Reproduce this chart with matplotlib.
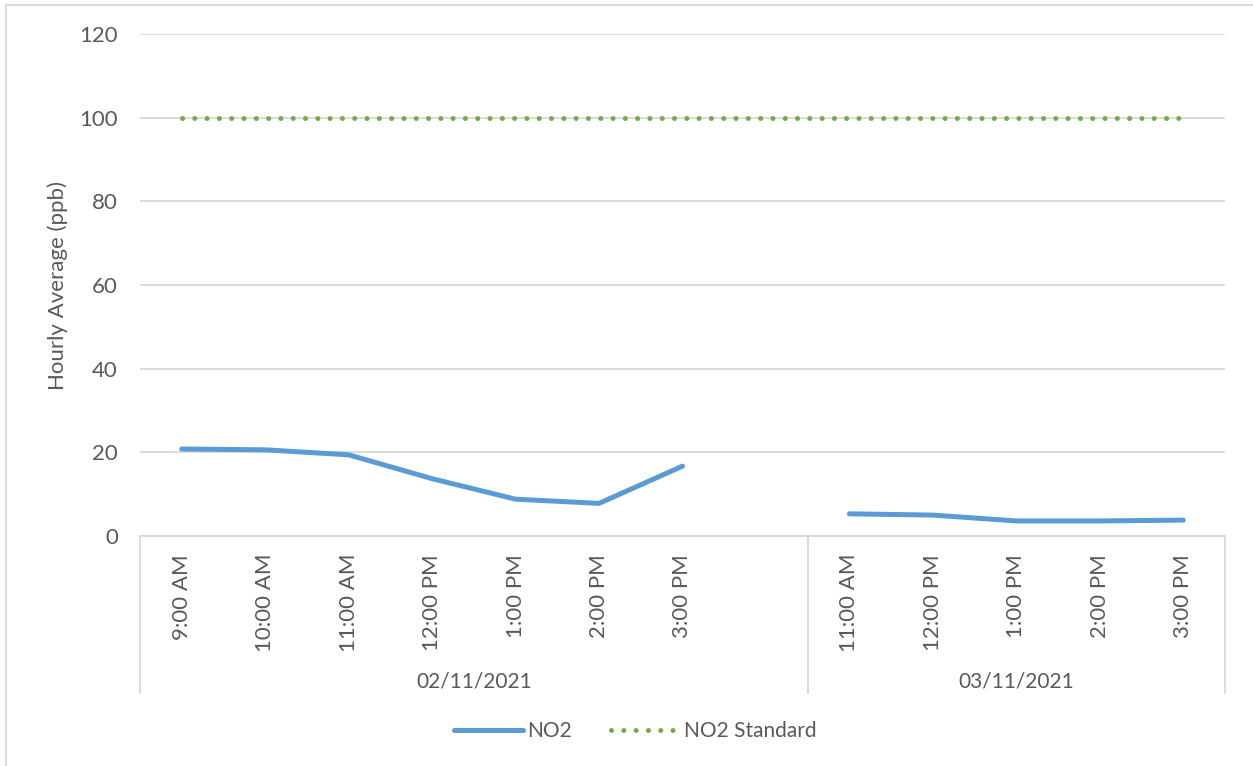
import numpy as np
import matplotlib.pyplot as plt
import matplotlib.transforms as mtransforms
from matplotlib.lines import Line2D

plt.rcParams['font.family'] = ['Lato', 'DejaVu Sans']

dates = ["02/11/2021"] * 8 + ["03/11/2021"] * 5
times = ["9:00 AM", "10:00 AM", "11:00 AM", "12:00 PM", "1:00 PM", "2:00 PM", "3:00 PM", "",
         "11:00 AM", "12:00 PM", "1:00 PM", "2:00 PM", "3:00 PM"]
no2 = [20.8, 20.6, 19.4, 13.7, 8.8, 7.8, 16.7, np.nan, 5.3, 5.0, 3.6, 3.6, 3.8]
no2_standard = [100] * 13

text_col = "#595959"
grid_col = "#D9D9D9"
fs = 16

fig = plt.figure(figsize=(12.53, 7.66), dpi=100)
ax = fig.add_axes([140 / 1253, 1 - 536 / 766, (1225 - 140) / 1253, (536 - 34) / 766])

x = np.arange(len(times))
ax.plot(x, no2, color="#5B9BD5", lw=3.6, solid_capstyle="round", solid_joinstyle="round", zorder=3)
ax.plot(x, no2_standard, color="#70AD47", lw=3.6, linestyle=(0, (0.01, 2.45)),
        dash_capstyle="round", zorder=3)

ax.set_xlim(-0.5, len(times) - 0.5)
ax.set_ylim(0, 120)
ax.set_yticks(range(0, 121, 20))
ax.yaxis.grid(True, color=grid_col, lw=1.3)
ax.set_axisbelow(True)
ax.tick_params(axis="y", length=0, pad=16, labelsize=fs, labelcolor=text_col)
ax.set_xticks([])
for s in ["top", "right", "left"]:
    ax.spines[s].set_visible(False)
ax.spines["bottom"].set_color(grid_col)
ax.spines["bottom"].set_linewidth(1.3)
ax.set_ylabel("Hourly Average (ppb)", fontsize=fs, color=text_col, labelpad=8)

# multi-level category axis
trans = mtransforms.blended_transform_factory(ax.transData, fig.transFigure)
y_top = 1 - 536 / 766
y_bot = 1 - 693 / 766
for i, t in enumerate(times):
    if t:
        ax.text(i, 1 - 554 / 766, t, rotation=90, ha="center", va="top",
                fontsize=fs, color=text_col, transform=trans)

groups = []
for i, d in enumerate(dates):
    if not groups or groups[-1][0] != d:
        groups.append([d, i, i])
    else:
        groups[-1][2] = i
for d, start, end in groups:
    ax.text((start + end) / 2, 1 - 681 / 766, d, ha="center", va="center",
            fontsize=15, color=text_col, transform=trans)
    for xb in (start - 0.5, end + 0.5):
        ax.plot([xb, xb], [y_top, y_bot], color=grid_col, lw=1.3, transform=trans, clip_on=False)

handles = [Line2D([], [], color="#5B9BD5", lw=3.6, solid_capstyle="round"),
           Line2D([], [], color="#70AD47", lw=3.6, linestyle=(0, (0.01, 2.45)), dash_capstyle="round")]
fig.legend(handles, ["NO2", "NO2 Standard"], loc="center", bbox_to_anchor=(0.507, 1 - 731 / 766),
           ncol=2, frameon=False, fontsize=15, labelcolor=text_col, handlelength=3.3,
           handletextpad=0.2, columnspacing=1.9)

# chart border (left and top visible)
fig.add_artist(Line2D([6 / 1253, 6 / 1253], [0, 1 - 5 / 766], color=grid_col, lw=1.3))
fig.add_artist(Line2D([6 / 1253, 1], [1 - 5 / 766, 1 - 5 / 766], color=grid_col, lw=1.3))

fig.savefig("out.png", dpi=100, facecolor="white")
